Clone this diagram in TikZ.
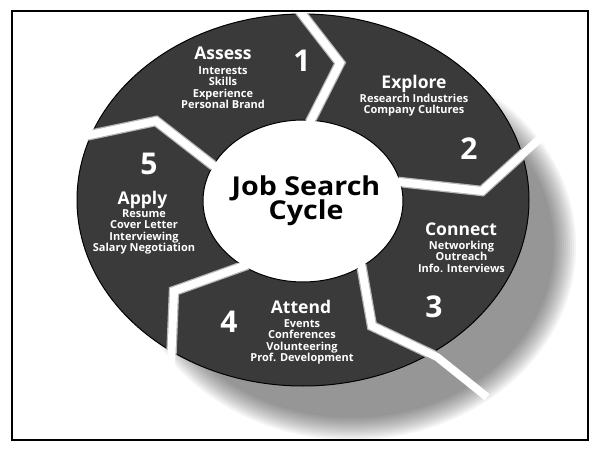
\documentclass[tikz,border=0pt]{standalone}
\usepackage{fontspec}
\setmainfont{Open Sans}
\newfontfamily\hubfamily{Open Sans}[FakeStretch=1.1]
\usetikzlibrary{positioning}
\definecolor{ringdark}{HTML}{3A3A3A}
\definecolor{gapgray}{HTML}{B4B4B4}
\newcommand{\hubfont}{\hubfamily\bfseries\fontsize{26}{24.5}\selectfont\setlength{\lineskiplimit}{-20pt}}
\tikzset{
  stage/.style={text=white, font=\bfseries\fontsize{17.5}{19}\selectfont, inner sep=0pt, anchor=base},
  items/.style={text=white, font=\bfseries\fontsize{11}{11.5}\selectfont, align=center, inner sep=0pt, anchor=north},
  stepnum/.style={text=white, font=\bfseries\fontsize{30}{30}\selectfont, inner sep=0pt, anchor=base},
  hub/.style={text=black, font=\hubfont, align=center, inner sep=0pt, anchor=north},
  gapedge/.style={line width=10.5pt, draw=gapgray, line join=miter, miter limit=10},
  gapfill/.style={line width=8pt, draw=white, line join=miter, miter limit=10}
}

\begin{document}
\begin{tikzpicture}[x=1pt,y=-1pt]
  \useasboundingbox (0,0) rectangle (595,449);

  % soft shadow behind the ring
  \foreach \k in {0,...,11}
    \fill[black, opacity=0.042] (352,246) ellipse [x radius={(224-2*\k)*1pt}, y radius={(194-2*\k)*1pt}];

  % ring and hub
  \fill[ringdark, draw=black, line width=1pt] (303,200) ellipse [x radius=226pt, y radius=186pt];
  \fill[white, draw=black, line width=1pt] (303,201) ellipse [x radius=100pt, y radius=81pt];

  % chevron gaps between the stages
  \coordinate (g12in) at (305,132);  \coordinate (g12tip) at (340,63);  \coordinate (g12out) at (295,5);
  \coordinate (g23in) at (390,181);  \coordinate (g23tip) at (482,191); \coordinate (g23out) at (546,133);
  \coordinate (g34in) at (360,258);  \coordinate (g34tip) at (372,326); \coordinate (g34mid) at (437,357);
  \coordinate (g34out) at (487,397);
  \coordinate (g45in) at (255,262);  \coordinate (g45tip) at (174,291); \coordinate (g45out) at (171,365);
  \coordinate (g51in) at (228,177);  \coordinate (g51tip) at (156,121); \coordinate (g51out) at (66,140);

  \begin{scope}[even odd rule]
    \clip (303,200) ellipse [x radius=227pt, y radius=187pt]
          (303,201) ellipse [x radius=100pt, y radius=81pt];
    \draw[gapedge] (g12in) -- (g12tip) -- (g12out);
    \draw[gapedge] (g23in) -- (g23tip) -- (g23out);
    \draw[gapedge] (g34in) -- (g34tip) -- (g34mid) -- (g34out);
    \draw[gapedge] (g45in) -- (g45tip) -- (g45out);
    \draw[gapedge] (g51in) -- (g51tip) -- (g51out);
  \end{scope}
  \draw[gapfill] (g12in) -- (g12tip) -- (g12out);
  \draw[gapfill] (g23in) -- (g23tip) -- (g23out);
  \draw[gapfill] (g34in) -- (g34tip) -- (g34mid) -- (g34out);
  \draw[gapfill] (g45in) -- (g45tip) -- (g45out);
  \draw[gapfill] (g51in) -- (g51tip) -- (g51out);

  % stage texts
  \node[stage] (assess) at (223,60) {Assess};
  \node[items] (assessitems) at (223,66.1) {Interests\\Skills\\Experience\\Personal Brand};
  \node[stepnum] (one) at (302,72) {1};

  \node[stage] (explore) at (414,88.5) {Explore};
  \node[items] (exploreitems) at (414,93.6) {Research Industries\\Company Cultures};
  \node[stepnum] (two) at (469,160) {2};

  \node[stage] (connect) at (461,236) {Connect};
  \node[items] (connectitems) at (461.5,240.6) {Networking\\Outreach\\Info. Interviews};
  \node[stepnum] (three) at (434,318) {3};

  \node[stage] (attend) at (301,314) {Attend};
  \node[items] (attenditems) at (302,319.1) {Events\\Conferences\\Volunteering\\Prof. Development};
  \node[stepnum] (four) at (229,333) {4};

  \node[stage] (apply) at (142.5,205) {Apply};
  \node[items] (applyitems) at (144,209.1) {Resume\\Cover Letter\\Interviewing\\Salary Negotiation};
  \node[stepnum] (five) at (149,175) {5};

  \node[hub] (hubtext) at (306,175.5) {Job Search\\Cycle};

  % frame
  \draw[line width=1.4pt] (12,11) rectangle (588,440);
\end{tikzpicture}
\end{document}
